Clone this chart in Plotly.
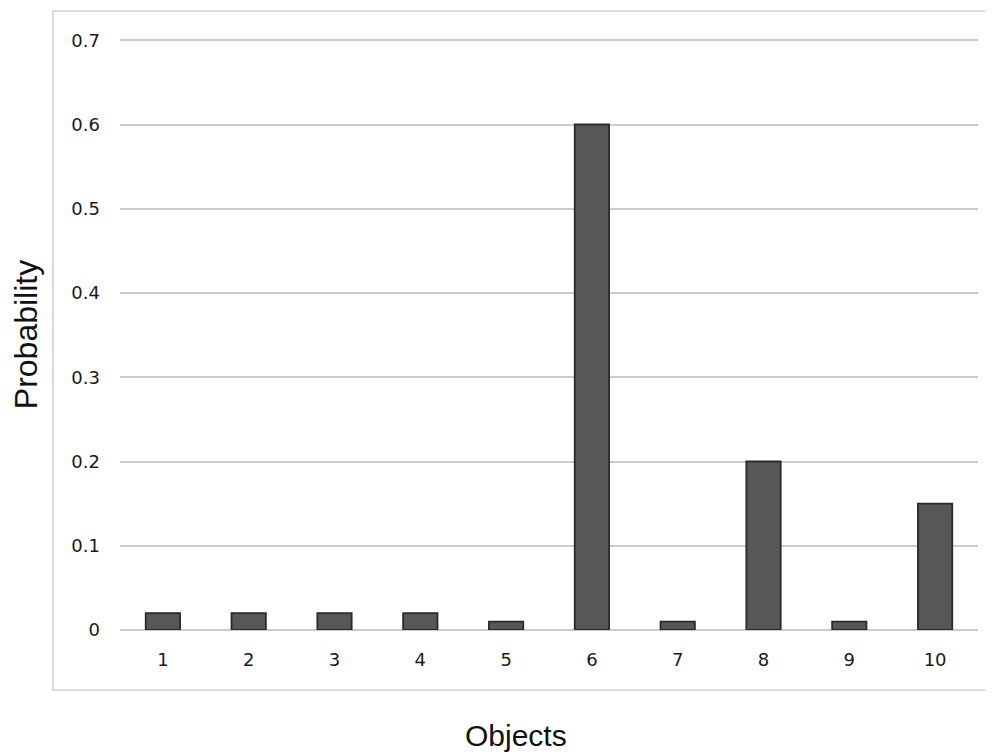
import plotly.graph_objects as go

categories = ["1", "2", "3", "4", "5", "6", "7", "8", "9", "10"]
probability = [0.02, 0.02, 0.02, 0.02, 0.01, 0.6, 0.01, 0.2, 0.01, 0.15]
y_ticks = [0, 0.1, 0.2, 0.3, 0.4, 0.5, 0.6, 0.7]
y_tick_labels = ["0", "0.1", "0.2", "0.3", "0.4", "0.5", "0.6", "0.7"]

# page body adds an 8px offset
OFF = 8
W, H = 993 - OFF, 756 - OFF
ml, mt = 120 - OFF, 39 - OFF
plot_right, plot_bottom = 978 - OFF, 630 - OFF
mr, mb = W - plot_right, H - plot_bottom
pw, ph = plot_right - ml, plot_bottom - mt

fig = go.Figure(
    go.Bar(
        x=categories,
        y=probability,
        marker=dict(color="#575757", line=dict(color="#2a2a2a", width=1.8)),
    )
)

fig.update_layout(
    width=W,
    height=H,
    margin=dict(l=ml, r=mr, t=mt, b=mb, pad=0),
    paper_bgcolor="white",
    plot_bgcolor="white",
    bargap=0.6,
    showlegend=False,
    font=dict(family="DejaVu Sans", color="#1a1a1a"),
    xaxis=dict(
        type="category",
        showgrid=False,
        showline=False,
        ticks="",
        tickfont=dict(family="DejaVu Sans", size=18, color="#1a1a1a"),
        ticklabelstandoff=17,
    ),
    yaxis=dict(
        range=[0, 0.7015],
        tickvals=y_ticks,
        ticktext=y_tick_labels,
        showgrid=True,
        gridcolor="#cccccc",
        gridwidth=1.5,
        zeroline=True,
        zerolinecolor="#cccccc",
        zerolinewidth=1.5,
        showline=False,
        ticks="",
        tickfont=dict(family="DejaVu Sans", size=18, color="#1a1a1a"),
        ticklabelstandoff=19,
        title=dict(
            text="Probability",
            font=dict(family="Liberation Sans, Arial", size=32, color="#111"),
            standoff=26,
        ),
    ),
    annotations=[
        dict(
            text="Objects",
            xref="paper",
            yref="paper",
            x=(516 - 120) / (978 - 120),
            y=-(735 - 630) / (630 - 39),
            xanchor="center",
            yanchor="middle",
            showarrow=False,
            font=dict(family="Liberation Sans, Arial", size=30, color="#111"),
        )
    ],
    shapes=[
        dict(
            type="rect",
            xref="paper",
            yref="paper",
            x0=(53 - 120) / (978 - 120),
            x1=1.05,
            y0=-(690 - 630) / (630 - 39),
            y1=(630 - 11) / (630 - 39),
            line=dict(color="#cfcfcf", width=1.5),
            fillcolor="rgba(0,0,0,0)",
            layer="below",
        )
    ],
)

fig.write_html("out.html")
